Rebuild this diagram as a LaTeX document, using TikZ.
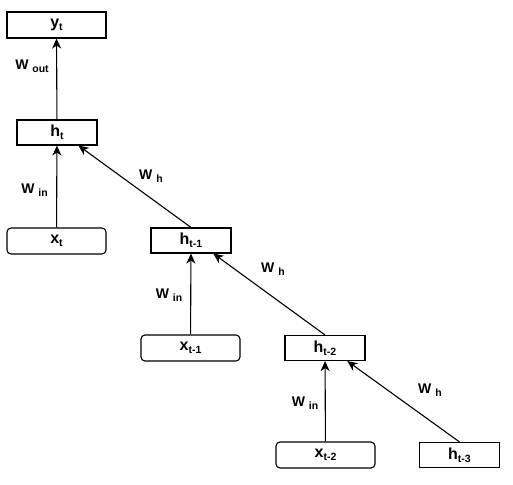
\documentclass[tikz,border=0pt]{standalone}
\usepackage{fontspec}
\setmainfont{Liberation Sans}
\usetikzlibrary{calc,arrows.meta}
\newcommand{\lsub}[1]{\raisebox{-0.4ex}{\fontsize{10.5}{12}\selectfont #1}}

\begin{document}
\begin{tikzpicture}[
  x=1pt, y=-1pt,
  hbox/.style={draw, line width=1.1pt, minimum width=80pt, minimum height=25pt, inner sep=0pt, font=\fontsize{16}{18}\selectfont\bfseries},
  wbox/.style={hbox, minimum width=99pt, minimum height=26pt},
  ibox/.style={wbox, rounded corners=4pt},
  arr/.style={->, line width=1.1pt, >={Stealth[length=10pt,width=9pt,inset=3pt]}},
  lbl/.style={inner sep=0pt, font=\fontsize{14}{16}\selectfont\bfseries}
]
  \useasboundingbox (0,0) rectangle (513,484);

  \node[wbox] (yt)  at (56.5,25)  {y\lsub{t}};
  \node[hbox] (ht)  at (57,132.5) {h\lsub{t}};
  \node[ibox] (xt)  at (56.5,241) {x\lsub{t}};
  \node[hbox] (ht1) at (191,240.5) {h\lsub{t-1}};
  \node[ibox] (xt1) at (190.5,348) {x\lsub{t-1}};
  \node[hbox] (ht2) at (325,348)  {h\lsub{t-2}};
  \node[ibox] (xt2) at (325.5,455) {x\lsub{t-2}};
  \node[hbox] (ht3) at (459.5,455) {h\lsub{t-3}};

  \draw[arr] (ht) -- (yt);
  \draw[arr] (xt) -- (ht);
  \draw[arr] (xt1) -- (ht1);
  \draw[arr] (xt2) -- (ht2);
  \draw[arr] (ht1.north) -- ($(ht.south)!0.53!(ht.south east)$);
  \draw[arr] (ht2.north) -- ($(ht1.south)!0.55!(ht1.south east)$);
  \draw[arr] (ht3.north) -- ($(ht2.south)!0.55!(ht2.south east)$);

  \node[lbl] (wout) at (32,66)   {W \lsub{out}};
  \node[lbl] (win0) at (34.5,190) {W \lsub{in}};
  \node[lbl] (wh0)  at (151,176) {W \lsub{h}};
  \node[lbl] (win1) at (169,295) {W \lsub{in}};
  \node[lbl] (wh1)  at (273,269) {W \lsub{h}};
  \node[lbl] (win2) at (305,403) {W \lsub{in}};
  \node[lbl] (wh2)  at (430,390) {W \lsub{h}};
\end{tikzpicture}
\end{document}
